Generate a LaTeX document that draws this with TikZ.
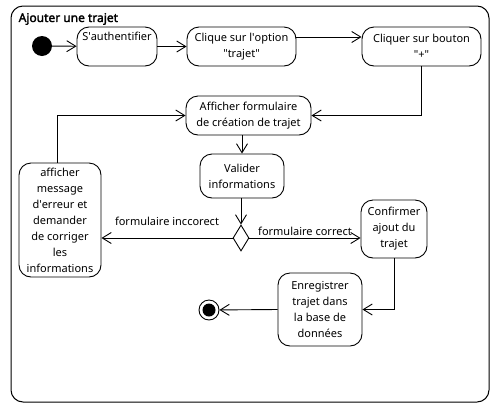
\documentclass[tikz,border=0pt]{standalone}
\usepackage{fontspec}
\setmainfont{Noto Sans}[AutoFakeBold=2.2]
\usetikzlibrary{arrows.meta,shapes.geometric}
\begin{document}
\begin{tikzpicture}[x=1pt,y=-1pt,
  act/.style={draw,rounded corners=12pt,line width=0.9pt,align=center,inner sep=0pt,
    font=\fontsize{11}{16}\selectfont},
  flow/.style={line width=0.9pt,-{Straight Barb[length=9pt,width=11pt,line width=0.9pt]}},
  lbl/.style={font=\fontsize{11}{14}\selectfont,inner sep=2pt}]
\useasboundingbox (0,0) rectangle (500,413);
\draw[line width=1pt,rounded corners=12pt] (11,6) rectangle (489,402);
\node[anchor=west,font=\fontsize{12}{14}\selectfont\bfseries,inner sep=0pt] (title) at (18.5,19) {Ajouter une trajet};
\node[circle,fill=black,minimum size=20pt,inner sep=0pt] (start) at (42,46) {};
\node[act,minimum width=80pt,minimum height=39pt] (auth) at (117,46.5) {S\textquotesingle authentifier\\\strut};
\node[act,minimum width=109pt,minimum height=39pt] (opt) at (241.5,46.5) {Clique sur l\textquotesingle option\\\textquotedbl trajet\textquotedbl};
\node[act,minimum width=119pt,minimum height=39pt] (btn) at (421.5,46.5) {Cliquer sur bouton\\\textquotedbl +\textquotedbl};
\node[act,minimum width=125pt,minimum height=39pt] (form) at (248.5,115.5) {Afficher formulaire\\de création de trajet};
\node[act,minimum width=84pt,minimum height=44pt] (valid) at (242,176) {Valider\\informations};
\node[diamond,draw,line width=0.9pt,minimum width=16pt,minimum height=26pt,inner sep=0pt] (d) at (241,238) {};
\node[act,minimum width=82pt,minimum height=114pt] (err) at (60,220) {afficher\\message\\d\textquotesingle erreur et\\demander\\de corriger\\les\\informations};
\node[act,minimum width=66pt,minimum height=58pt] (conf) at (394,229) {Confirmer\\ajout du\\trajet};
\node[act,minimum width=84pt,minimum height=73pt] (save) at (320,309.5) {Enregistrer\\trajet dans\\la base de\\données};
\node[circle,draw,line width=0.9pt,minimum size=20pt,inner sep=0pt] (end) at (209,310) {};
\node[circle,fill=black,minimum size=13pt,inner sep=0pt] (endin) at (end) {};
\draw[flow] (start) -- (auth);
\draw[flow] (auth) -- (opt);
\draw[flow] ([yshift=9.5pt]opt.east) -- ([yshift=9.5pt]opt.east -| btn.west);
\draw[flow] (btn.south) |- (form.east);
\draw[flow] ([xshift=-3pt]err.north) |- (form.west);
\draw[flow] (valid.north |- form.south) -- (valid.north);
\draw[flow] (d.north |- valid.south) -- (d.north);
\draw[flow] (d.west) -- node[lbl,above,yshift=10pt] {formulaire inccorect} (err.east |- d.west);
\draw[flow] (d.east) -- node[lbl,above] {formulaire correct} (d.east -| conf.west);
\draw[flow] (conf.south) |- (save.east);
\draw[flow] (save.west) -- (end);
\end{tikzpicture}
\end{document}
